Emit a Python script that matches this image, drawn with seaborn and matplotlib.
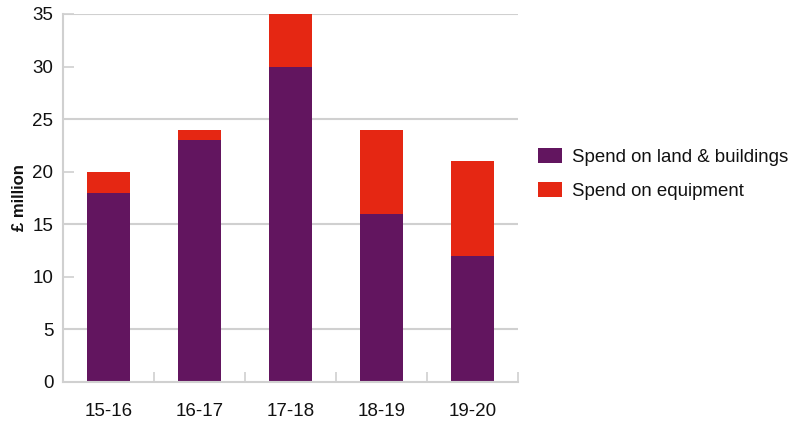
import matplotlib
matplotlib.use("Agg")
import matplotlib.pyplot as plt
import seaborn as sns
import pandas as pd
from matplotlib.ticker import FixedLocator, MultipleLocator

years = ["15-16", "16-17", "17-18", "18-19", "19-20"]
land_buildings = [18, 23, 30, 16, 12]
equipment = [2, 1, 5, 8, 9]

PURPLE = "#62155F"
RED = "#E52713"
GRID = "#D0D0D0"

sns.set_theme(style="white")
plt.rcParams["font.family"] = ["Liberation Sans", "DejaVu Sans"]

df = pd.DataFrame({"year": years, "land": land_buildings, "equip": equipment})
df["total"] = df["land"] + df["equip"]

fig = plt.figure(figsize=(8.04, 4.30), dpi=100)
ax = fig.add_axes([63 / 804, 48 / 430, 455 / 804, 368 / 430])

sns.barplot(data=df, x="year", y="total", color=RED, width=0.48, ax=ax,
            label="Spend on equipment", saturation=1, linewidth=0)
sns.barplot(data=df, x="year", y="land", color=PURPLE, width=0.48, ax=ax,
            label="Spend on land & buildings", saturation=1, linewidth=0)

ax.set_xlim(-0.5, len(years) - 0.5)
ax.set_ylim(0, 35)
ax.set_xlabel("")
ax.set_ylabel("£ million", fontsize=12, fontweight="bold", labelpad=4,
              color="#111111")

# y ticks
ax.yaxis.remove_overlapping_locs = False
ax.yaxis.set_major_locator(MultipleLocator(5))
ax.yaxis.set_minor_locator(FixedLocator([5, 15, 25, 35]))
ax.tick_params(axis="y", which="both", left=True)
ax.tick_params(axis="y", which="major", direction="in", length=8, width=1.2,
               color=GRID, labelsize=13.5, pad=7, labelcolor="#111111")
ax.tick_params(axis="y", which="minor", length=0)
ax.grid(False)
ax.yaxis.grid(True, which="minor", color=GRID, linewidth=1.5)
ax.set_axisbelow(True)

# x ticks at category boundaries
ax.xaxis.set_minor_locator(FixedLocator([i - 0.5 for i in range(len(years) + 1)]))
ax.tick_params(axis="x", which="both", bottom=True)
ax.tick_params(axis="x", which="minor", direction="in", length=7, width=1.2, color=GRID)
ax.tick_params(axis="x", which="major", length=0, labelsize=13.5, pad=15,
               labelcolor="#111111")

for s in ["top", "right"]:
    ax.spines[s].set_visible(False)
for s in ["left", "bottom"]:
    ax.spines[s].set_color(GRID)
    ax.spines[s].set_linewidth(1.5)

handles, labels = ax.get_legend_handles_labels()
order = [labels.index("Spend on land & buildings"), labels.index("Spend on equipment")]
leg = ax.legend([handles[i] for i in order], [labels[i] for i in order],
                loc="center left", bbox_to_anchor=(1.007, 0.565), frameon=False,
                fontsize=13.4, handlelength=1.3, handleheight=0.8,
                handletextpad=0.55, labelspacing=0.88)
for t in leg.get_texts():
    t.set_color("#111111")

fig.savefig("out.png", dpi=100)
